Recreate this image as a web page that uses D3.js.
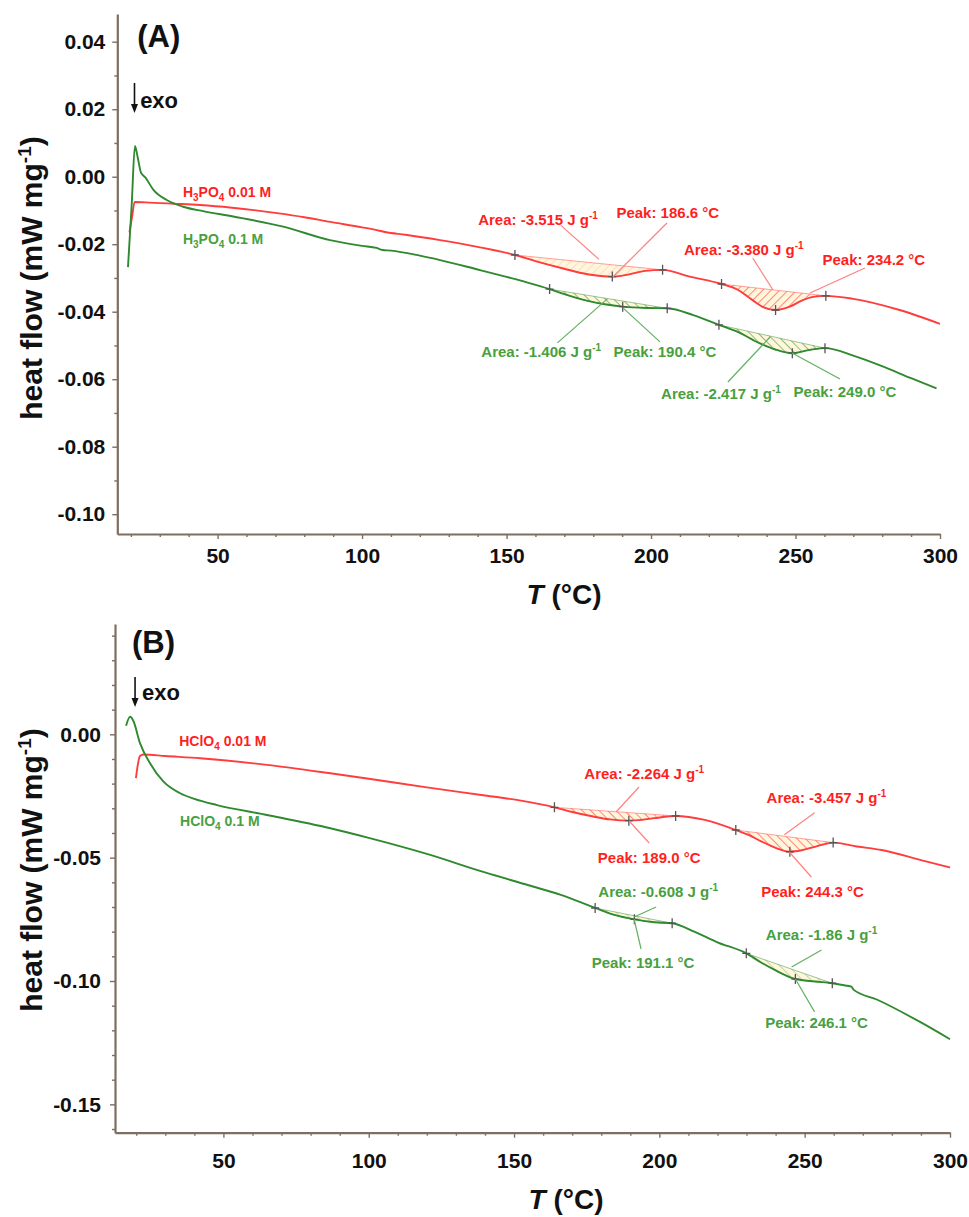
<!DOCTYPE html>
<html>
<head>
<meta charset="utf-8">
<script src="https://cdnjs.cloudflare.com/ajax/libs/d3/7.8.5/d3.min.js"></script>
<style>
    body { margin: 0; background: #fff; }
    svg text { font-family: "Liberation Sans", Arial, sans-serif; font-weight: bold; }
</style>
</head>
<body>
<svg id="chart" width="969" height="1217"></svg>
<script>

// ---------- Panel A: H3PO4, [T (°C), heat flow (mW/mg)] ----------
var redA = [
    [19.5, -0.0165], [20.4, -0.0120], [21.3, -0.0075], [25, -0.0076], [35, -0.0080], [44, -0.0084],
    [55, -0.0092], [70.6, -0.0108], [80, -0.0120], [89, -0.0134], [100, -0.0150], [106, -0.0160],
    [108, -0.0164], [115, -0.0172], [127, -0.0188], [140, -0.0208], [152.9, -0.0232], [160, -0.0250],
    [169.6, -0.0272], [178, -0.0289], [186.6, -0.0296], [192, -0.0290], [198, -0.0279], [204, -0.0276],
    [213.4, -0.0296], [224.4, -0.0318], [230, -0.0335], [235, -0.0365], [239, -0.0387], [243.1, -0.0395],
    [248, -0.0385], [252, -0.0368], [256, -0.0356], [260.5, -0.0353], [270, -0.0362], [286, -0.0395],
    [300, -0.0436]
];
var greenA = [
    [19.0, -0.0268], [20.3, -0.0080], [21.4, 0.0091], [22.3, 0.0060], [23.5, 0.0012], [25, -0.0002],
    [27.8, -0.0039], [32.4, -0.0069], [38.1, -0.0089], [45, -0.0102], [55.4, -0.0118], [72.7, -0.0148],
    [88.9, -0.0188], [100, -0.0205], [105, -0.0211], [107, -0.0217], [110, -0.0219], [120, -0.0234],
    [127, -0.0247], [140, -0.0275], [150, -0.0297], [157, -0.0313], [164.9, -0.0333], [170, -0.0348],
    [177.7, -0.0367], [184, -0.0378], [190.2, -0.0385], [198.5, -0.0389], [205.6, -0.0390], [214.6, -0.0410],
    [223.5, -0.0439], [230, -0.0460], [237.7, -0.0494], [243, -0.0512], [248.9, -0.0523], [255, -0.0513],
    [260.2, -0.0508], [270, -0.0530], [280.4, -0.0563], [290, -0.0597], [298.8, -0.0627]
];
// integration limits and peak: [start, peak, end] (°C)
var peaksRedA = [[152.9, 186.6, 204.0], [224.4, 243.1, 260.5]];
var peaksGreenA = [[164.9, 190.2, 205.6], [223.5, 248.9, 260.2]];
// [kind, value, label at, leader from, leader to]  (data coordinates)
var notesRedA = [
    ["area", "-3.515", [160.9, -0.01434], [168.8, -0.01443], [182.0, -0.02450]],
    ["peak", "186.6", [205.8, -0.01224], [205.5, -0.01372], [186.8, -0.02972]],
    ["area", "-3.380", [232.1, -0.02320], [235.2, -0.02409], [242.2, -0.03357]],
    ["peak", "234.2", [277.1, -0.02616], [274.0, -0.02705], [255.0, -0.03446]]
];
var notesGreenA = [
    ["area", "-1.406", [162.0, -0.05339], [167.6, -0.04924], [184.9, -0.03621]],
    ["peak", "190.4", [204.8, -0.05339], [203.1, -0.04895], [190.3, -0.03887]],
    ["area", "-2.417", [224.2, -0.06587], [226.6, -0.06084], [241.2, -0.04750]],
    ["peak", "249.0", [267.1, -0.06527], [265.4, -0.05994], [248.8, -0.05224]]
];
var yTicksA = [0.04, 0.02, 0.00, -0.02, -0.04, -0.06, -0.08, -0.10];

// ---------- Panel B: HClO4 ----------
var redB = [
    [19.9, -0.0178], [20.6, -0.0120], [21.3, -0.0088], [22.5, -0.0082], [30, -0.0088], [42, -0.0097],
    [65, -0.0124], [86.8, -0.0158], [100, -0.0180], [120, -0.0215], [140, -0.0248], [152.4, -0.0269],
    [163.9, -0.0296], [170, -0.0315], [177.6, -0.0334], [183, -0.0345], [189.5, -0.0350], [194, -0.0347],
    [198.3, -0.0340], [205.6, -0.0331], [215.6, -0.0347], [226.3, -0.0388], [231, -0.0410], [235.2, -0.0435],
    [240, -0.0460], [244.9, -0.0476], [249, -0.0470], [253.5, -0.0456], [259.8, -0.0439], [268, -0.0455],
    [276.5, -0.0469], [290, -0.0510], [300, -0.0540]
];
var greenB = [
    [16.5, 0.0035], [17.9, 0.0071], [19, 0.0055], [21.3, -0.0036], [24.8, -0.0118], [29.4, -0.0192],
    [35.1, -0.0239], [40, -0.0262], [47.8, -0.0287], [65, -0.0327], [86.8, -0.0381], [100, -0.0420],
    [120, -0.0485], [140, -0.0560], [155, -0.0612], [166.1, -0.0651], [177.9, -0.0704], [184.5, -0.0732],
    [191.4, -0.0750], [198.3, -0.0762], [204.4, -0.0766], [212, -0.0800], [220, -0.0843], [229.9, -0.0888],
    [235, -0.0925], [239.7, -0.0955], [246.8, -0.0992], [253.5, -0.1002], [259.5, -0.1009], [264, -0.1018],
    [266.1, -0.1023], [266.8, -0.1035], [275, -0.1076], [290, -0.1168], [300, -0.1236]
];
var peaksRedB = [[163.9, 189.5, 205.6], [226.3, 244.9, 259.8]];
var peaksGreenB = [[177.9, 191.4, 204.4], [229.9, 246.8, 259.5]];
var notesRedB = [
    ["area", "-2.264", [194.8, -0.01812], [193.0, -0.02136], [185.1, -0.03150]],
    ["peak", "189.0", [196.5, -0.05217], [196.5, -0.04406], [189.6, -0.03515]],
    ["area", "-3.457", [257.5, -0.02777], [253.4, -0.03182], [243.0, -0.04074]],
    ["peak", "244.3", [252.7, -0.06595], [252.3, -0.05785], [244.7, -0.04771]]
];
var notesGreenB = [
    ["area", "-0.608", [199.6, -0.06595], [198.9, -0.07000], [191.3, -0.07405]],
    ["peak", "191.1", [194.4, -0.09473], [193.7, -0.08703], [191.3, -0.07487]],
    ["area", "-1.86", [255.8, -0.08338], [255.8, -0.08743], [245.5, -0.09432]],
    ["peak", "246.1", [254.1, -0.11910], [253.4, -0.11250], [246.8, -0.09920]]
];
var yTicksB = [0.00, -0.05, -0.10, -0.15];

var xTicks = [50, 100, 150, 200, 250, 300];

// series labels: [text, subscript?]
var labelRedA = [["H"], ["3", 1], ["PO"], ["4", 1], [" 0.01 M"]];
var labelGreenA = [["H"], ["3", 1], ["PO"], ["4", 1], [" 0.1 M"]];
var labelRedB = [["HClO"], ["4", 1], [" 0.01 M"]];
var labelGreenB = [["HClO"], ["4", 1], [" 0.1 M"]];

var RED = "#ff3d3d", RED_TXT = "#ff1f1f", RED_LEAD = "#ff8080";
var GREEN = "#2f8a2f", GREEN_TXT = "#48a03e", GREEN_LEAD = "#62b062";
var AXIS = "#7d6e60";

var svg = d3.select("#chart");

// hatch patterns for the integrated areas
var defs = svg.append("defs");
function hatch(id, color, angle, opacity) {
    var p = defs.append("pattern")
        .attr("id", id)
        .attr("width", 6).attr("height", 6)
        .attr("patternUnits", "userSpaceOnUse")
        .attr("patternTransform", "rotate(" + angle + ")");
    p.append("rect").attr("width", 6).attr("height", 6).attr("fill", "#fff6dc");
    p.append("line").attr("x1", 0).attr("y1", 0).attr("x2", 0).attr("y2", 6)
        .attr("stroke", color).attr("stroke-width", 1.2).attr("stroke-opacity", opacity);
}
hatch("hRedFaint", RED, 45, 0.25);
hatch("hRed", RED, 45, 1);
hatch("hRed2", RED, -45, 1);
hatch("hGreen", GREEN, -45, 0.9);
hatch("hGreenFaint", GREEN, -45, 0.45);

function valueAt(series, t) {
    var i = d3.bisector(d => d[0]).left(series, t);
    if (i <= 0) return series[0][1];
    if (i >= series.length) return series[series.length - 1][1];
    var a = series[i - 1], b = series[i];
    if (b[0] === t) return b[1];
    return a[1] + (b[1] - a[1]) * (t - a[0]) / (b[0] - a[0]);
}

function drawPanel(p) {
    var x = d3.scaleLinear().domain(p.tDomain).range(p.xRange);
    var y = d3.scaleLinear().domain(p.vDomain).range(p.yRange);
    var g = svg.append("g");

    var line = d3.line()
        .x(d => x(d[0]))
        .y(d => y(d[1]))
        .curve(d3.curveMonotoneX);

    // axes
    g.append("g")
        .attr("transform", "translate(0," + p.yRange[0] + ")")
        .call(d3.axisBottom(x).tickValues(xTicks).tickSize(5).tickSizeOuter(0)
            .tickPadding(p.xPad).tickFormat(d3.format("d")));
    g.append("g")
        .attr("transform", "translate(0," + p.yRange[0] + ")")
        .call(d3.axisBottom(x).tickValues(d3.range(20, 300, 10).filter(d => d % 50)).tickSize(3).tickFormat(""))
        .select(".domain").remove();

    g.append("g")
        .attr("transform", "translate(" + p.xRange[0] + ",0)")
        .call(d3.axisLeft(y).tickValues(p.yTicks).tickSize(5).tickSizeOuter(0)
            .tickPadding(p.yPad).tickFormat(d => d.toFixed(2)));
    g.append("g")
        .attr("transform", "translate(" + p.xRange[0] + ",0)")
        .call(d3.axisLeft(y).tickValues(p.yMinor).tickSize(3).tickFormat(""))
        .select(".domain").remove();

    g.selectAll(".domain").attr("stroke", AXIS).attr("stroke-width", 2.2);
    g.selectAll(".tick line").attr("stroke", AXIS).attr("stroke-width", 1.4);
    g.selectAll(".tick text")
        .attr("font-size", 21)
        .attr("font-family", "Liberation Sans, Arial, sans-serif")
        .attr("fill", "#111");

    // integrated peak areas
    var area = d3.area().curve(d3.curveMonotoneX);
    p.series.forEach(function (s) {
        s.peaks.forEach(function (pk, i) {
            var v0 = valueAt(s.data, pk[0]), v1 = valueAt(s.data, pk[2]);
            var base = t => v0 + (v1 - v0) * (t - pk[0]) / (pk[2] - pk[0]);
            var pts = s.data.filter(d => d[0] >= pk[0] && d[0] <= pk[2]);
            area.x(d => x(d[0])).y0(d => y(base(d[0]))).y1(d => y(d[1]));
            g.append("path")
                .attr("d", area(pts))
                .attr("fill", "url(#" + s.fills[i] + ")")
                .attr("stroke", s.color)
                .attr("stroke-width", 0.8)
                .attr("stroke-opacity", 0.6);
        });
    });

    // curves
    p.series.forEach(function (s) {
        g.append("path")
            .attr("d", line(s.data))
            .attr("fill", "none")
            .attr("stroke", s.color)
            .attr("stroke-width", 1.9);
    });

    // limit / peak markers
    p.series.forEach(function (s) {
        s.peaks.forEach(function (pk) {
            pk.forEach(function (t) {
                g.append("path")
                    .attr("transform", "translate(" + x(t) + "," + y(valueAt(s.data, t)) + ")")
                    .attr("d", "M-4,0H4M0,-5V5")
                    .attr("stroke", "#555")
                    .attr("stroke-width", 1.3);
            });
        });
    });

    // annotations
    p.series.forEach(function (s) {
        s.notes.forEach(function (n) {
            g.append("line")
                .attr("x1", x(n[3][0])).attr("y1", y(n[3][1]))
                .attr("x2", x(n[4][0])).attr("y2", y(n[4][1]))
                .attr("stroke", s.lead)
                .attr("stroke-width", 1.2);
            var t = g.append("text")
                .attr("x", x(n[2][0]))
                .attr("y", y(n[2][1]))
                .attr("text-anchor", "middle")
                .attr("font-size", 15)
                .attr("fill", s.text);
            if (n[0] == "area") {
                t.append("tspan").text("Area:  " + n[1] + " J g");
                t.append("tspan").attr("dy", -6).attr("font-size", 10).text("-1");
            } else {
                t.text("Peak: " + n[1] + " °C");
            }
        });

        // series label with subscripts
        var lab = g.append("text")
            .attr("x", x(s.labelAt[0]))
            .attr("y", y(s.labelAt[1]))
            .attr("font-size", 14)
            .attr("fill", s.text);
        var sub = false;
        s.label.forEach(function (part) {
            var isSub = !!part[1];
            var ts = lab.append("tspan").text(part[0]);
            if (isSub && !sub) ts.attr("dy", 4).attr("font-size", 10);
            if (!isSub && sub) ts.attr("dy", -4);
            if (isSub && sub) ts.attr("font-size", 10);
            sub = isSub;
        });
    });

    // panel letter and exo arrow
    g.append("text")
        .attr("x", x(p.letterAt[0])).attr("y", y(p.letterAt[1]))
        .attr("font-size", 31)
        .attr("fill", "#111")
        .text(p.letter);

    var ax = x(p.exoArrow[0]), ay0 = y(p.exoArrow[1]), ay1 = y(p.exoArrow[2]);
    g.append("line")
        .attr("x1", ax).attr("y1", ay0).attr("x2", ax).attr("y2", ay1 - 6)
        .attr("stroke", "#111").attr("stroke-width", 1.6);
    g.append("path")
        .attr("d", "M" + (ax - 3.5) + "," + (ay1 - 9) + "L" + (ax + 3.5) + "," + (ay1 - 9) + "L" + ax + "," + ay1 + "Z")
        .attr("fill", "#111");
    g.append("text")
        .attr("x", x(p.exoAt[0])).attr("y", y(p.exoAt[1]))
        .attr("font-size", 22)
        .attr("fill", "#111")
        .text("exo");

    // axis titles
    var yt = g.append("text")
        .attr("transform", "translate(42," + p.yTitleY + ") rotate(-90)")
        .attr("text-anchor", "middle")
        .attr("font-size", 30)
        .attr("fill", "#111");
    yt.append("tspan").text("heat flow (mW mg");
    yt.append("tspan").attr("dy", -11).attr("font-size", 19).text("-1");
    yt.append("tspan").attr("dy", 11).text(")");

    var xt = g.append("text")
        .attr("x", p.xTitleX).attr("y", p.xTitleY)
        .attr("text-anchor", "middle")
        .attr("font-size", 28)
        .attr("fill", "#111");
    xt.append("tspan").attr("font-style", "italic").text("T");
    xt.append("tspan").text(" (°C)");
}

drawPanel({
    tDomain: [15.3, 300], xRange: [117.3, 940],
    vDomain: [-0.10587, 0.04821], yRange: [534, 14],
    yTicks: yTicksA, yMinor: [0.03, 0.01, -0.01, -0.03, -0.05, -0.07, -0.09],
    xPad: 9, yPad: 7,
    letter: "(A)", letterAt: [22.2, 0.03843],
    exoArrow: [21.25, 0.02776, 0.01884], exoAt: [23.2, 0.02036],
    yTitleY: 278, xTitleX: 564, xTitleY: 604,
    series: [
        { data: redA, peaks: peaksRedA, notes: notesRedA, fills: ["hRedFaint", "hRed"],
          color: RED, text: RED_TXT, lead: RED_LEAD, label: labelRedA, labelAt: [38.0, -0.00601] },
        { data: greenA, peaks: peaksGreenA, notes: notesGreenA, fills: ["hGreen", "hGreen"],
          color: GREEN, text: GREEN_TXT, lead: GREEN_LEAD, label: labelGreenA, labelAt: [38.0, -0.01994] }
    ]
});

drawPanel({
    tDomain: [12.7, 300], xRange: [115, 950],
    vDomain: [-0.16149, 0.04471], yRange: [1132.7, 624],
    yTicks: yTicksB, yMinor: [0.04, 0.03, 0.02, 0.01, -0.01, -0.02, -0.03, -0.04, -0.06, -0.07, -0.08, -0.09,
        -0.11, -0.12, -0.13, -0.14, -0.16],
    xPad: 15, yPad: 9,
    letter: "(B)", letterAt: [18.56, 0.03296],
    exoArrow: [19.6, 0.02323, 0.01107], exoAt: [22.0, 0.0139],
    yTitleY: 870, xTitleX: 566, xTitleY: 1209,
    series: [
        { data: redB, peaks: peaksRedB, notes: notesRedB, fills: ["hRed2", "hRed2"],
          color: RED, text: RED_TXT, lead: RED_LEAD, label: labelRedB, labelAt: [34.8, -0.00462] },
        { data: greenB, peaks: peaksGreenB, notes: notesGreenB, fills: ["hGreenFaint", "hGreenFaint"],
          color: GREEN, text: GREEN_TXT, lead: GREEN_LEAD, label: labelGreenB, labelAt: [35.1, -0.03705] }
    ]
});

</script>
</body>
</html>
